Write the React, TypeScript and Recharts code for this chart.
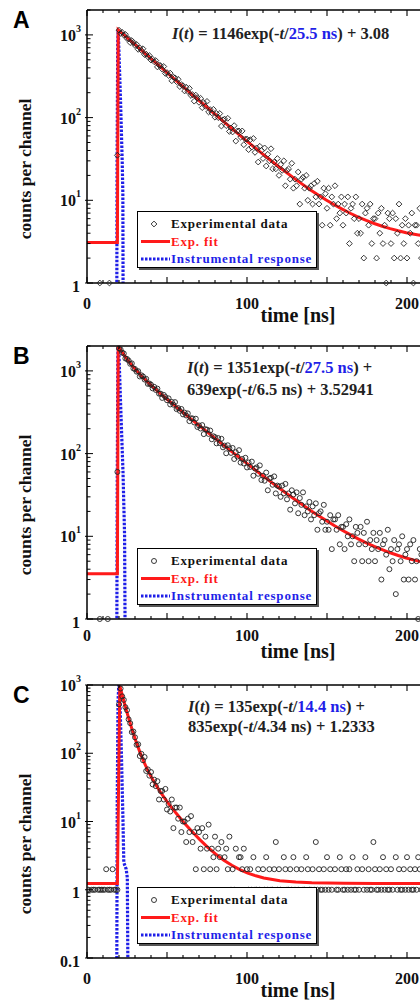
import React from 'react';
import { ComposedChart, Scatter, Line, XAxis, YAxis } from 'recharts';

const SERIF = '"Liberation Serif", "Times New Roman", serif';
const SANS = '"Liberation Sans", Arial, sans-serif';
const RED = '#ff1a1a';
const BLUE = '#1f1fe8';

// one channel per ns, index = time [ns]; null = empty channel (0 counts)
const countsA = [
  null, null, null, null, null, null, null, null, 1, null, null, null, null, null, 1, null, null, null, null, 35,
  1140, 1045, 1071, 992, 1014, 903, 894, 807, 853, 807,
  745, 768, 668, 696, 649, 680, 578, 585, 546, 562,
  496, 509, 473, 489, 410, 431, 424, 385, 415, 342,
  350, 323, 345, 279, 308, 303, 272, 290, 237, 250,
  243, 210, 233, 207, 226, 185, 189, 158, 187, 174,
  153, 171, 132, 152, 137, 157, 117, 125, 114, 126,
  101, 112, 100, 112, 79, 94, 96, 80, 98, 68,
  75, 67, 80, 52, 69, 69, 58, 69, 47, 55,
  55, 41, 54, 44, 56, 38, 43, 29, 45, 40,
  32, 43, 26, 36, 30, 42, 24, 29, 24, 32,
  20, 27, 23, 30, 15, 23, 24, 18, 28, 14,
  18, 15, 22, 9, 18, 19, 14, 20, 10, 14,
  15, 9, 16, 11, 17, 9, 11, 5, 14, 12,
  8, 14, 5, 11, 9, 15, 6, 9, 7, 11,
  5, 9, 7, 11, 3, 8, 9, 6, 11, 4,
  6, 4, 9, 2, 7, 8, 5, 9, 3, 6,
  6, 2, 7, 4, 8, 3, 5, 1, 7, 6,
  3, 7, 2, 6, 4, 9, 2, 5, 3, 6,
  2, 5, 4, 7, 1, 5, 5, 3, 8, 2,
  4, 2, 6, null, 5, 5,
];

const countsB = [
  null, null, null, null, null, null, null, null, 1, null, null, null, null, 1, null, null, null, null, null, 60,
  1882, 1815, 1664, 1622, 1413, 1394, 1334, 1219, 1233, 1072,
  1052, 979, 991, 856, 884, 856, 786, 802, 697, 704,
  681, 615, 641, 588, 610, 531, 531, 471, 512, 483,
  442, 465, 393, 421, 390, 419, 345, 355, 329, 346,
  298, 313, 289, 306, 247, 267, 266, 238, 264, 210,
  219, 201, 221, 172, 197, 195, 173, 190, 149, 162,
  158, 133, 154, 134, 151, 119, 125, 101, 126, 116,
  102, 117, 86, 104, 92, 110, 78, 86, 76, 89,
  68, 78, 69, 80, 54, 66, 68, 57, 72, 48,
  54, 47, 59, 36, 50, 51, 42, 53, 33, 41,
  40, 30, 41, 33, 43, 28, 33, 21, 36, 32,
  25, 34, 19, 29, 24, 34, 18, 23, 20, 26,
  16, 23, 18, 25, 12, 19, 20, 15, 24, 12,
  15, 12, 18, 7, 16, 16, 12, 18, 8, 13,
  13, 7, 14, 10, 16, 8, 10, 5, 13, 11,
  8, 13, 5, 11, 8, 15, 5, 9, 7, 11,
  5, 9, 7, 11, 3, 8, 9, 6, 12, 4,
  7, 5, 9, 2, 7, 8, 5, 10, 3, 6,
  7, 3, 8, 5, 9, 3, 5, 1, 7, 6,
  4, 8, 2, 6, 5, 9,
];

const countsC = [
  1, 1, null, 1, 1, 1, null, 1, 1, 1, 1, 1, 2, 1, 1, 1, 2, 1, 1, 1, 520,
  888, 682, 606, 473, 428, 314, 276, 204, 208, 171,
  133, 135, 91, 98, 79, 88, 55, 58, 47, 53,
  35, 41, 33, 39, 21, 28, 28, 21, 30, 15,
  18, 14, 21, 8, 16, 16, 11, 16, 7, 10,
  10, 5, 11, 7, 12, 5, 7, 2, 8, 7,
  4, 8, 2, 6, 4, 9, 2, 4, 3, 6,
  2, 4, 3, 5, null, 3, 4, 2, 6, 1,
  2, 1, 4, null, 3, 3, 2, 4, null, 2,
  1, 2, 1, 3, 1, 1, 2, 1, null, 2,
  1, 3, 1, 2, 1, 1, 2, 5, 1, 2,
  1, null, 3, 2, 1, 1, 2, 1, 3, 1,
  2, 1, null, 2, 1, 1, 3, 2, 1, 1,
  2, 1, 5, 1, 2, 1, 1, 2, 1, 3,
  1, 2, 1, null, 2, 1, 1, 3, 2, 1,
  1, 2, 1, 2, 1, 3, 1, 1, 2, 1,
  null, 2, 1, 3, 1, 2, 1, 1, 5, 2,
  1, 1, 2, 1, 3, 1, 2, 1, 1, 2,
  1, null, 3, 1, 2, 1, 1, 2, 1, 3,
  1, 2, 1, 1, 2, 1, 3, 2, 1, 1,
  2, 1, 3, 1, 2,
];

// exponential fits
const fitTimesA = [0, 19, 19.5, 24.5, 29.5, 34.5, 39.5, 44.5, 49.5, 54.5, 59.5, 64.5, 69.5, 74.5, 79.5, 84.5, 89.5, 94.5, 99.5, 104.5, 109.5, 114.5, 119.5, 124.5, 129.5, 134.5, 139.5, 144.5, 149.5, 154.5, 159.5, 164.5, 169.5, 174.5, 179.5, 184.5, 189.5, 194.5, 199.5, 204.5, 209.5, 214.5, 219.5, 229.5, 239.5, 250];
const fitA = [3.08, 3.08, 1149, 945, 777, 639.5, 526.2, 433.1, 356.5, 293.6, 241.9, 199.4, 164.4, 135.7, 112.1, 92.7, 76.7, 63.6, 52.8, 44.0, 36.7, 30.7, 25.8, 21.8, 18.4, 15.7, 13.44, 11.6, 10.08, 8.83, 7.81, 6.97, 6.28, 5.71, 5.24, 4.85, 4.54, 4.28, 4.06, 3.89, 3.74, 3.62, 3.52, 3.39, 3.32, 3.26];

const fitTimesB = [0, 19, 19.5, 24.5, 29.5, 34.5, 39.5, 44.5, 49.5, 54.5, 59.5, 64.5, 69.5, 74.5, 79.5, 84.5, 89.5, 94.5, 99.5, 104.5, 109.5, 114.5, 119.5, 124.5, 129.5, 134.5, 139.5, 144.5, 149.5, 154.5, 159.5, 164.5, 169.5, 174.5, 179.5, 184.5, 189.5, 194.5, 199.5, 204.5, 209.5, 214.5, 219.5, 229.5, 239.5, 250];
const fitB = [3.53, 3.53, 1993, 1426, 1080, 850, 686, 561.5, 463.7, 384.8, 320.4, 267.2, 223.2, 186.7, 156.1, 130.7, 109.6, 91.9, 77.2, 65.0, 54.8, 46.2, 39.1, 33.2, 28.3, 24.2, 20.7, 17.9, 15.5, 13.5, 11.84, 10.46, 9.31, 8.35, 7.55, 6.88, 6.32, 5.86, 5.47, 5.15, 4.88, 4.65, 4.47, 4.18, 3.98, 3.84];

const fitTimesC = [0, 19, 20.5, 21.5, 22.5, 23.5, 24.5, 25.5, 28, 30.5, 33, 35.5, 38, 40.5, 45.5, 50.5, 55.5, 60.5, 65.5, 70.5, 75.5, 80.5, 85.5, 90.5, 95.5, 100.5, 105.5, 110.5, 120.5, 130.5, 140.5, 160.5, 180.5, 220.5, 250];
const fitC = [1.233, 1.233, 971.2, 790.3, 645.4, 529.0, 435.6, 360.5, 229.7, 152.0, 104.8, 75.2, 56.1, 43.3, 27.7, 18.9, 13.4, 9.7, 7.19, 5.42, 4.19, 3.32, 2.71, 2.28, 1.97, 1.75, 1.60, 1.49, 1.36, 1.30, 1.266, 1.241, 1.235, 1.233, 1.233];

// instrumental response (dashed blue)
const irfTimesA = [18.6, 18.8, 19.2, 19.5, 20, 21, 22, 22.4, 22.6];
const irfA = [0.3, 30, 800, 1150, 600, 150, 30, 12, 0.3];
const irfTimesB = [18.6, 18.9, 19.3, 19.6, 21, 22.5, 23.5, 23.9];
const irfB = [0.3, 50, 1500, 2600, 400, 60, 10, 0.3];
const irfTimesC = [18.6, 18.9, 19.4, 19.9, 20.5, 21.5, 22.5, 23, 24.5, 25.2, 25.6];
const irfC = [0.05, 20, 600, 1000, 700, 100, 10, 2.5, 2, 1.5, 0.05];

const X_TICKS = Array.from({ length: 26 }, (_, i) => i * 10);
const X_LABELS = [0, 100, 200];
const DECADES_AB = [1, 10, 100, 1000];
const DECADES_C = [0.1, 1, 10, 100, 1000];

const logTicks = (decades: number[], top: number) => {
  const out: number[] = [];
  decades.forEach((d) => {
    for (let m = 1; m <= 9; m++) {
      const v = +(d * m).toPrecision(6);
      if (v <= top) out.push(v);
    }
  });
  return out;
};

const toRows = (counts: (number | null)[]) =>
  counts.flatMap((c, i) => (c == null ? [] : [{ t: i, c }]));
const pairRows = (ts: number[], vs: number[]) => ts.map((t, i) => ({ t, v: vs[i] }));

const PLOT_LEFT = 87;
const PLOT_H = 273;
const CHART_W = 497;
const TOP_PAD = 14;
const BOTTOM_PAD = 30;

const BottomTick = (props: any) => {
  const { x, y, payload, labelDy } = props;
  const v = payload.value;
  const major = v % 50 === 0;
  return (
    <g>
      <line x1={x} x2={x} y1={y} y2={y - (major ? 6 : 3)} stroke="#000" strokeWidth={1.1} />
      {X_LABELS.includes(v) && (
        <text x={x} y={y + labelDy} textAnchor="middle" dominantBaseline="central"
          fontFamily={SERIF} fontWeight="bold" fontSize={16} fill="#111">{v}</text>
      )}
    </g>
  );
};

const TopTick = (props: any) => {
  const { x, y, payload } = props;
  const major = payload.value % 50 === 0;
  return <line x1={x} x2={x} y1={y} y2={y + (major ? 6 : 3)} stroke="#000" strokeWidth={1.1} />;
};

const YTick = (props: any) => {
  const { x, y, payload } = props;
  const v = payload.value;
  const lg = Math.log10(v);
  const major = Math.abs(lg - Math.round(lg)) < 1e-6;
  const e = Math.round(lg);
  let label: React.ReactNode = null;
  if (major) {
    label = e >= 1 ? (
      <text x={x - 6} y={y} textAnchor="end" dominantBaseline="central"
        fontFamily={SERIF} fontWeight="bold" fontSize={16} fill="#111">
        <tspan>10</tspan>
        <tspan dy={-7} fontSize={10}>{e}</tspan>
      </text>
    ) : (
      <text x={x - 7} y={y + 3} textAnchor="end" dominantBaseline="central"
        fontFamily={SERIF} fontWeight="bold" fontSize={16} fill="#111">{e === 0 ? '1' : '0.1'}</text>
    );
  }
  return (
    <g>
      <line x1={x - (major ? 2 : 0)} x2={x + (major ? 6 : 3.5)} y1={y} y2={y} stroke="#000" strokeWidth={1} />
      {label}
    </g>
  );
};

const Diamond = (p: any) => (
  <path d={`M${p.cx},${p.cy - 2.9}L${p.cx + 2.9},${p.cy}L${p.cx},${p.cy + 2.9}L${p.cx - 2.9},${p.cy}Z`}
    fill="none" stroke="#222" strokeWidth={0.9} />
);
const Ring = (p: any) => (
  <circle cx={p.cx} cy={p.cy} r={2.5} fill="none" stroke="#222" strokeWidth={0.9} />
);

type PanelProps = {
  letter: string;
  frameTop: number;
  counts: (number | null)[];
  fitT: number[];
  fitV: number[];
  irfT: number[];
  irfV: number[];
  domain: [number, number];
  decades: number[];
  marker: 'diamond' | 'ring';
  labelDy: number;
  legendTop: number;
  formula: React.ReactNode[];
  formulaX: number;
  formulaY: number[];
};

const Panel = (p: PanelProps) => {
  const ticks = logTicks(p.decades, p.domain[1]);
  const chartTop = p.frameTop - TOP_PAD;
  const bottom = p.frameTop + PLOT_H;
  return (
    <>
      <div style={{ position: 'absolute', left: 0, top: chartTop }}>
        <ComposedChart width={CHART_W} height={TOP_PAD + PLOT_H + BOTTOM_PAD}
          margin={{ top: TOP_PAD - 1, right: 10, bottom: BOTTOM_PAD - 1, left: PLOT_LEFT - 60 }}>
          <XAxis dataKey="t" type="number" domain={[0, 250]} allowDataOverflow ticks={X_TICKS}
            interval={0} height={1} tickSize={0} tickMargin={0} tickLine={false}
            axisLine={{ stroke: '#000', strokeWidth: 1.5 }}
            tick={(tp: any) => <BottomTick {...tp} labelDy={p.labelDy} />} />
          <XAxis xAxisId="top" orientation="top" dataKey="t" type="number" domain={[0, 250]}
            allowDataOverflow ticks={X_TICKS} interval={0} height={1} tickSize={0} tickMargin={0}
            tickLine={false} axisLine={{ stroke: '#000', strokeWidth: 1.5 }}
            tick={(tp: any) => <TopTick {...tp} />} />
          <YAxis type="number" scale="log" domain={p.domain} allowDataOverflow ticks={ticks}
            interval={0} width={60} tickSize={0} tickMargin={0} tickLine={false}
            axisLine={{ stroke: '#000', strokeWidth: 1.5 }}
            tick={(tp: any) => <YTick {...tp} />} />
          <YAxis yAxisId="pts" type="number" scale="log" domain={p.domain} hide />
          <Line xAxisId="top" data={pairRows(p.irfT, p.irfV)} dataKey="v" type="linear"
            stroke={BLUE} strokeWidth={3.2} strokeDasharray="2.5 1.5" dot={false}
            isAnimationActive={false} />
          <Line data={pairRows(p.fitT, p.fitV)} dataKey="v" type="linear" stroke={RED}
            strokeWidth={3} dot={false} isAnimationActive={false} />
          <Scatter yAxisId="pts" data={toRows(p.counts)} dataKey="c"
            shape={p.marker === 'diamond' ? Diamond : Ring} isAnimationActive={false} />
        </ComposedChart>
      </div>

      <div style={{ position: 'absolute', left: 13, top: p.frameTop - 2, fontFamily: SANS,
        fontWeight: 'bold', fontSize: 23, lineHeight: '24px', color: '#000' }}>{p.letter}</div>

      <div style={{ position: 'absolute', left: 25, top: (p.frameTop + bottom) / 2 + 22,
        transform: 'translate(-50%, -50%) rotate(-90deg)', whiteSpace: 'nowrap',
        fontFamily: SERIF, fontWeight: 'bold', fontSize: 17.5, color: '#111' }}>counts per channel</div>

      <div style={{ position: 'absolute', left: 298, top: bottom + 32,
        transform: 'translate(-50%, -50%)', whiteSpace: 'nowrap', fontFamily: SERIF,
        fontWeight: 'bold', fontSize: 20, color: '#111' }}>time [ns]</div>

      {p.formula.map((f, i) => (
        <div key={i} style={{ position: 'absolute', left: p.formulaX, top: p.formulaY[i] - 10,
          lineHeight: '20px', whiteSpace: 'nowrap', fontFamily: SERIF, fontWeight: 'bold',
          fontSize: 16.5, color: '#222' }}>{f}</div>
      ))}

      <div style={{ position: 'absolute', left: 137, top: p.legendTop, width: 180, height: 57,
        boxSizing: 'border-box', border: '1px solid #000', boxShadow: '2px 2px 0 #555',
        background: '#fff', fontFamily: SERIF, fontWeight: 'bold', fontSize: 13,
        letterSpacing: 0.8 }}>
        <svg width={34} height={57} style={{ position: 'absolute', left: 0, top: 0 }}>
          {p.marker === 'diamond' ? (
            <path d="M16,9.1L18.9,12L16,14.9L13.1,12Z" fill="none" stroke="#222" strokeWidth={0.9} />
          ) : (
            <circle cx={16} cy={12} r={2.5} fill="none" stroke="#222" strokeWidth={0.9} />
          )}
          <line x1={3} x2={32} y1={29.5} y2={29.5} stroke={RED} strokeWidth={3} />
          <line x1={3} x2={32} y1={47} y2={47} stroke={BLUE} strokeWidth={3} strokeDasharray="2.5 1.5" />
        </svg>
        <div style={{ position: 'absolute', left: 33, top: 3, lineHeight: '17.5px', whiteSpace: 'nowrap' }}>
          <div style={{ color: '#111' }}>Experimental data</div>
          <div style={{ color: RED }}>Exp. fit</div>
          <div style={{ color: BLUE }}>Instrumental response</div>
        </div>
      </div>
    </>
  );
};

const It = () => (
  <span><i>I</i>(<i>t</i>)</span>
);
const Tau = ({ v }: { v: string }) => <span style={{ color: BLUE }}>{v} ns</span>;

export default function App() {
  return (
    <div style={{ position: 'absolute', left: 0, top: 0, width: 420, height: 1001,
      overflow: 'hidden', background: '#fff' }}>
      <Panel letter="A" frameTop={10} counts={countsA} fitT={fitTimesA} fitV={fitA}
        irfT={irfTimesA} irfV={irfA} domain={[1, 2000]} decades={DECADES_AB} marker="diamond"
        labelDy={20} legendTop={211}
        formula={[<span><It /> = 1146exp(-<i>t</i>/<Tau v="25.5" />) + 3.08</span>]}
        formulaX={172} formulaY={[34]} />
      <Panel letter="B" frameTop={346} counts={countsB} fitT={fitTimesB} fitV={fitB}
        irfT={irfTimesB} irfV={irfB} domain={[1, 2000]} decades={DECADES_AB} marker="ring"
        labelDy={16} legendTop={548}
        formula={[
          <span><It /> = 1351exp(-<i>t</i>/<Tau v="27.5" />) +</span>,
          <span>639exp(-<i>t</i>/6.5 ns) + 3.52941</span>,
        ]}
        formulaX={187} formulaY={[368, 390]} />
      <Panel letter="C" frameTop={685} counts={countsC} fitT={fitTimesC} fitV={fitC}
        irfT={irfTimesC} irfV={irfC} domain={[0.1, 1000]} decades={DECADES_C} marker="ring"
        labelDy={20} legendTop={887}
        formula={[
          <span><It /> = 135exp(-<i>t</i>/<Tau v="14.4" />) +</span>,
          <span>835exp(-<i>t</i>/4.34 ns) + 1.2333</span>,
        ]}
        formulaX={188} formulaY={[707, 727]} />
    </div>
  );
}
